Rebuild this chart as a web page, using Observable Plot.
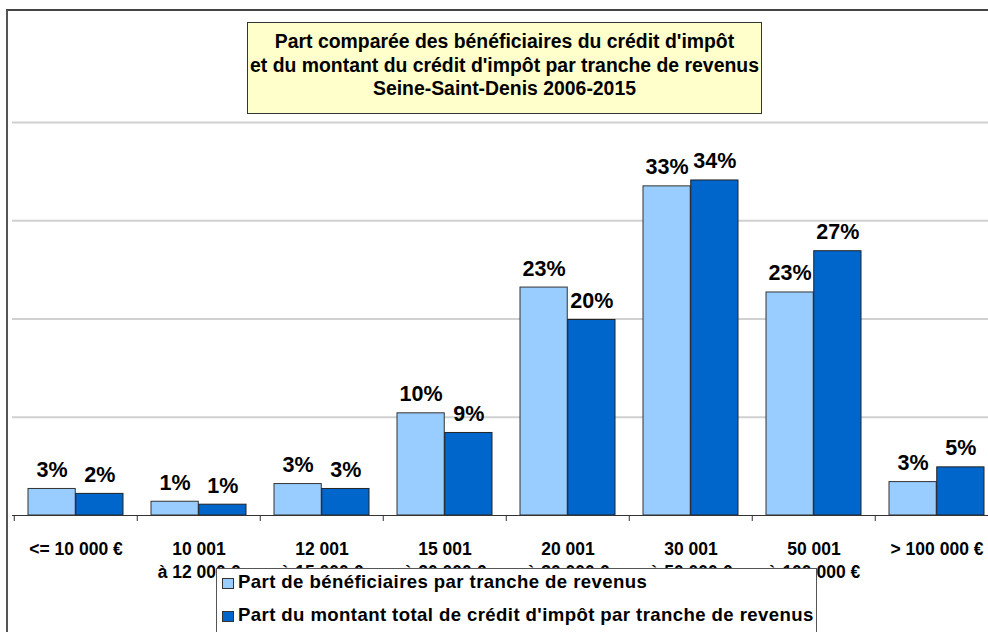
<!DOCTYPE html>
<html>
<head>
<meta charset="utf-8">
<script src="https://cdn.jsdelivr.net/npm/d3@7"></script>
<script src="https://cdn.jsdelivr.net/npm/@observablehq/plot@0.6"></script>
<style>
  html, body { margin: 0; padding: 0; background: #fff; }
  #wrap { position: relative; width: 988px; height: 632px; overflow: hidden; font-family: "Liberation Sans", Arial, sans-serif; }
  #frame { position: absolute; left: 6px; top: 9px; width: 1100px; height: 800px; border-left: 2px solid #555; border-top: 2px solid #444; box-sizing: border-box; }
  #chart { position: absolute; left: 0; top: 0; width: 1012px; height: 632px; }
  #chart svg { max-width: none !important; }
  #title { position: absolute; left: 247px; top: 22px; width: 515px; height: 92px; box-sizing: border-box; background: #FFFFCC; border: 1px solid #333; text-align: center; font-weight: bold; font-size: 19.4px; line-height: 23.5px; padding-top: 7px; color: #000; white-space: nowrap; }
  #legend { position: absolute; left: 216px; top: 568px; width: 601px; height: 100px; box-sizing: border-box; background: #fff; border: 1.5px solid #555; }
  .item { position: absolute; left: 5px; font-weight: bold; font-size: 18.6px; line-height: 20px; letter-spacing: 0.4px; color: #000; white-space: nowrap; }
  .sw { display: inline-block; width: 10px; height: 9px; border: 1px solid #333; margin-right: 4px; vertical-align: -1px; }
</style>
</head>
<body>
<div id="wrap">
  <div id="frame"></div>
  <div id="chart"></div>
  <div id="title">Part comparée des bénéficiaires du crédit d'impôt<br>et du montant du crédit d'impôt par tranche de revenus<br>Seine-Saint-Denis 2006-2015</div>
  <div id="legend"></div>
</div>
<script>
// ---- Data ----
const categories = [
  "<= 10 000 €",
  "10 001\nà 12 000 €",
  "12 001\nà 15 000 €",
  "15 001\nà 20 000 €",
  "20 001\nà 30 000 €",
  "30 001\nà 50 000 €",
  "50 001\nà 100 000 €",
  "> 100 000 €"
];
const beneficiaires = [2.7, 1.4, 3.2, 10.4, 23.2, 33.5, 22.7, 3.4];
const montant       = [2.2, 1.1, 2.7, 8.4, 19.9, 34.1, 26.9, 4.9];
const beneficiairesLabels = ["3%", "1%", "3%", "10%", "23%", "33%", "23%", "3%"];
const montantLabels       = ["2%", "1%", "3%", "9%", "20%", "34%", "27%", "5%"];
const yTicks = [10, 20, 30, 40];
const seriesNames = [
  "Part de bénéficiaires par tranche de revenus",
  "Part du montant total de crédit d'impôt par tranche de revenus"
];
const seriesColors = ["#99CCFF", "#0066CC"];

// ---- Build table ----
const rows = categories.map((c, i) => ({
  cat: c,
  ben: beneficiaires[i],
  mont: montant[i],
  benLabel: beneficiairesLabels[i],
  montLabel: montantLabels[i]
}));

const W = 1012, H = 632, mL = 12, mR = 12, mT = 122, mB = 117;
const step = (W - mL - mR) / categories.length;
const half = step / 2;
const outer = 14;
const labelShift = (half - outer) / 2;

const chart = Plot.plot({
  width: W,
  height: H,
  marginLeft: mL,
  marginRight: mR,
  marginTop: mT,
  marginBottom: mB,
  style: { fontFamily: "'Liberation Sans', Arial, sans-serif", background: "transparent", overflow: "visible", maxWidth: "none" },
  x: { domain: categories, padding: 0, axis: null },
  y: { domain: [0, 40], axis: null },
  marks: [
    Plot.gridY(yTicks, { stroke: "#d0d0d0", strokeOpacity: 1, strokeWidth: 2 }),
    Plot.barY(rows, { x: "cat", y: "ben", fill: seriesColors[0], stroke: "#333", strokeWidth: 1, insetLeft: outer, insetRight: half }),
    Plot.barY(rows, { x: "cat", y: "mont", fill: seriesColors[1], stroke: "#222", strokeWidth: 1, insetLeft: half, insetRight: outer }),
    Plot.ruleY([0], { stroke: "#333", strokeWidth: 1 }),
    Plot.axisX({ anchor: "bottom", tickSize: 6, fill: "none", stroke: "#333", dx: -half, label: null }),
    Plot.axisX({ anchor: "bottom", tickSize: 0, tickPadding: 23, fontSize: 17.5, fontWeight: "bold", lineHeight: 1.32, fill: "#000", label: null }),
    Plot.text(rows, { x: "cat", y: "ben", text: "benLabel", dx: -labelShift, dy: -12, lineAnchor: "bottom", fontSize: 21.5, fontWeight: "bold", fill: "#000" }),
    Plot.text(rows, { x: "cat", y: "mont", text: "montLabel", dx: labelShift, dy: -12, lineAnchor: "bottom", fontSize: 21.5, fontWeight: "bold", fill: "#000" })
  ]
});
document.getElementById("chart").appendChild(chart);

// ---- Legend ----
const legend = document.getElementById("legend");
seriesNames.forEach((name, i) => {
  const item = document.createElement("div");
  item.className = "item";
  item.style.top = (i === 0 ? 2.5 : 35.5) + "px";
  const sw = document.createElement("span");
  sw.className = "sw";
  sw.style.background = seriesColors[i];
  item.appendChild(sw);
  item.appendChild(document.createTextNode(name));
  legend.appendChild(item);
});
</script>
</body>
</html>
